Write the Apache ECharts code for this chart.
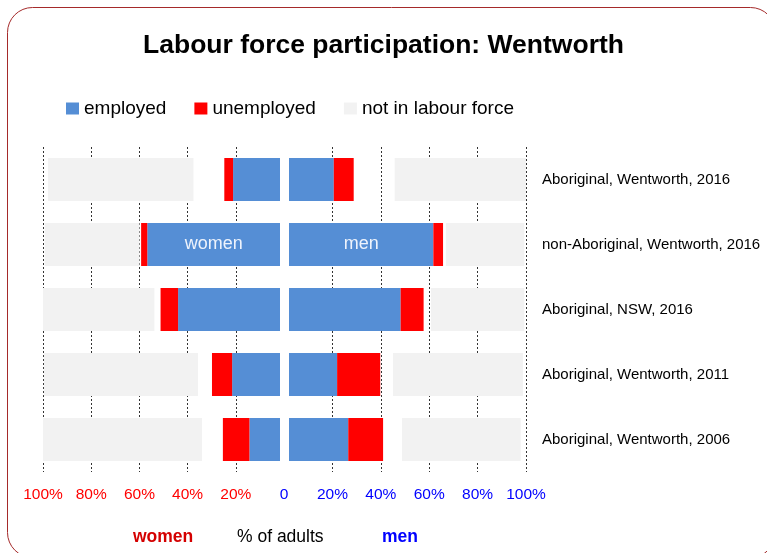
<!DOCTYPE html>
<html>
<head>
<meta charset="utf-8">
<title>Labour force participation: Wentworth</title>
<script src="https://cdn.jsdelivr.net/npm/echarts@6/dist/echarts.min.js"></script>
<style>
    html, body { margin: 0; padding: 0; background: #fff; }
    #main { width: 767px; height: 553px; }
</style>
</head>
<body>
<div id="main"></div>
<script>
// rows, top to bottom
var categories = [
    'Aboriginal, Wentworth, 2016',
    'non-Aboriginal, Wentworth, 2016',
    'Aboriginal, NSW, 2016',
    'Aboriginal, Wentworth, 2011',
    'Aboriginal, Wentworth, 2006'
];

// women, % of adults
var womenEmployed   = [19.8, 56.0, 43.0, 20.2, 12.9];
var womenUnemployed = [3.7, 2.6, 7.4, 8.5, 11.2];
var womenNotStated  = [13.0, 0.7, 2.6, 5.9, 8.8];
var womenNotInLF    = [61.4, 40.0, 47.0, 65.0, 67.1];

// men, % of adults
var menEmployed   = [18.9, 60.9, 47.1, 20.3, 25.0];
var menUnemployed = [8.4, 4.1, 9.7, 18.2, 14.7];
var menNotStated  = [17.3, 1.2, 3.1, 5.4, 8.0];
var menNotInLF    = [55.4, 33.1, 39.4, 54.8, 50.1];

var BLUE = '#558ed5';
var RED = '#ff0000';
var GREY = '#f2f2f2';
var FONT = 'Liberation Sans, Arial, sans-serif';

var chart = echarts.init(document.getElementById('main'));

var gridTop = 147, gridHeight = 325;

// row 2 carries the "women" / "men" tag inside the blue bar
function tagged(arr, text) {
    return arr.map(function (v, i) {
        if (i !== 1) return v;
        return {
            value: v,
            label: {
                show: true, position: 'inside', formatter: text,
                color: '#eef3fc', fontSize: 18, fontFamily: FONT
            }
        };
    });
}

function barSeries(name, data, color, idx, stack) {
    return {
        name: name,
        type: 'bar',
        stack: stack,
        xAxisIndex: idx,
        yAxisIndex: idx,
        barWidth: 43,
        silent: true,
        itemStyle: { color: color },
        data: data
    };
}

var splitStyle = { show: true, showMinLine: false, lineStyle: { color: '#333', type: [2, 2], width: 1 } };

var option = {
    backgroundColor: '#fff',
    animation: false,
    textStyle: { fontFamily: FONT },
    title: {
        text: 'Labour force participation: Wentworth',
        left: 'center',
        top: 27,
        textStyle: { fontSize: 26.5, fontWeight: 'bold', color: '#000', fontFamily: FONT }
    },
    legend: {
        left: 61,
        top: 94,
        itemWidth: 13,
        itemHeight: 12,
        itemGap: 28,
        icon: 'rect',
        selectedMode: false,
        textStyle: { fontSize: 19, color: '#000' },
        data: [
            { name: 'employed', itemStyle: { color: BLUE } },
            { name: 'unemployed', itemStyle: { color: RED } },
            { name: 'not in labour force', itemStyle: { color: GREY } }
        ]
    },
    grid: [
        // axis grids (true scale)
        { left: 43, right: 483, top: gridTop, height: gridHeight },
        { left: 284, right: 241, top: gridTop, height: gridHeight },
        // bar grids (small gap in the middle)
        { left: 43, right: 487, top: gridTop, height: gridHeight },
        { left: 289, right: 241, top: gridTop, height: gridHeight }
    ],
    xAxis: [
        {
            gridIndex: 0, type: 'value', inverse: true, min: 0, max: 100, interval: 20,
            axisLine: { show: false }, axisTick: { show: false },
            axisLabel: {
                color: RED, fontSize: 15.5, margin: 15,
                formatter: function (v) { return v === 0 ? '' : v + '%'; }
            },
            splitLine: splitStyle
        },
        {
            gridIndex: 1, type: 'value', min: 0, max: 100, interval: 20,
            axisLine: { show: false }, axisTick: { show: false },
            axisLabel: {
                color: '#0000ff', fontSize: 15.5, margin: 15,
                formatter: function (v) { return v === 0 ? '0' : v + '%'; }
            },
            splitLine: splitStyle
        },
        { gridIndex: 2, type: 'value', inverse: true, min: 0, max: 100, show: false },
        { gridIndex: 3, type: 'value', min: 0, max: 100, show: false }
    ],
    yAxis: [
        { gridIndex: 0, type: 'category', inverse: true, data: categories, show: false },
        { gridIndex: 1, type: 'category', inverse: true, data: categories, show: false },
        { gridIndex: 2, type: 'category', inverse: true, data: categories, show: false },
        {
            gridIndex: 3, type: 'category', inverse: true, data: categories, position: 'right',
            axisLine: { show: false }, axisTick: { show: false },
            axisLabel: { color: '#000', fontSize: 15, margin: 16, align: 'left' }
        }
    ],
    graphic: [
        {
            type: 'rect', silent: true, z: -10,
            shape: { x: 7.5, y: 7.5, width: 768, height: 550, r: 25 },
            style: { fill: null, stroke: '#a52a2a', lineWidth: 1 }
        },
        {
            type: 'text', left: 133, top: 528,
            style: { text: 'women', fill: '#d40000', font: 'bold 17.5px ' + FONT }
        },
        {
            type: 'text', left: 237, top: 528,
            style: { text: '% of adults', fill: '#000', font: '17.5px ' + FONT }
        },
        {
            type: 'text', left: 382, top: 528,
            style: { text: 'men', fill: '#0000ff', font: 'bold 17.5px ' + FONT }
        }
    ],
    series: [
        barSeries('employed', tagged(womenEmployed, 'women'), BLUE, 2, 'w'),
        barSeries('unemployed', womenUnemployed, RED, 2, 'w'),
        barSeries('not stated', womenNotStated, 'rgba(0,0,0,0)', 2, 'w'),
        barSeries('not in labour force', womenNotInLF, GREY, 2, 'w'),
        barSeries('employed', tagged(menEmployed, 'men'), BLUE, 3, 'm'),
        barSeries('unemployed', menUnemployed, RED, 3, 'm'),
        barSeries('not stated', menNotStated, 'rgba(0,0,0,0)', 3, 'm'),
        barSeries('not in labour force', menNotInLF, GREY, 3, 'm')
    ]
};

chart.setOption(option);
</script>
</body>
</html>
